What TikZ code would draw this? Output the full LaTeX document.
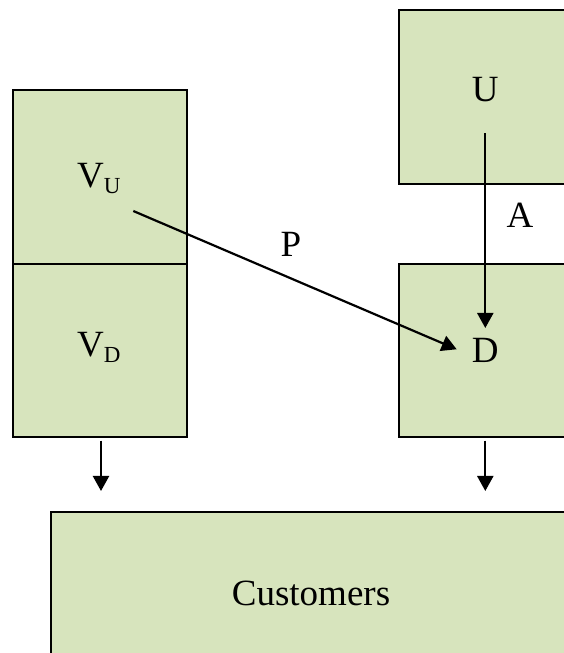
\documentclass[tikz,border=0pt]{standalone}
\usepackage{fontspec}
\setmainfont{Liberation Serif}
\usetikzlibrary{arrows.meta}
\definecolor{boxfill}{HTML}{D7E4BD}
\newcommand{\subtxt}[1]{\raisebox{-6pt}{\fontsize{23}{25}\selectfont #1}}
\begin{document}
\begin{tikzpicture}[x=1pt,y=1pt,
  box/.style={draw=black,line width=2pt,fill=boxfill},
  lbl/.style={inner sep=0pt,anchor=base,font=\fontsize{37}{40}\selectfont},
  arr/.style={line width=2.2pt,-{Triangle[width=16pt,length=15pt]}}]
\useasboundingbox (0,0) rectangle (564,653);
\clip (0,0) rectangle (564,653);
% boxes
\node[box,inner sep=0pt,minimum width=173.7pt,minimum height=173.7pt,anchor=north west] (vubox) at (12,564) {};
\node[box,inner sep=0pt,minimum width=173.7pt,minimum height=173.8pt,anchor=north west] (vdbox) at (12,390.3) {};
\node[box,inner sep=0pt,minimum width=210pt,minimum height=173.7pt,anchor=north west] (ubox) at (397.5,644) {};
\node[box,inner sep=0pt,minimum width=210pt,minimum height=173.8pt,anchor=north west] (dbox) at (397.5,390.3) {};
\node[box,inner sep=0pt,minimum width=560pt,minimum height=170pt,anchor=north west] (cbox) at (50,142) {};
% labels
\node[lbl] (vu) at (98.8,465.7) {V\subtxt{U}};
\node[lbl] (vd) at (98.8,296.3) {V\subtxt{D}};
\node[lbl] (u) at (485.3,551.3) {U};
\node[lbl] (d) at (485.3,290.7) {D};
\node[lbl] (a) at (520,425.3) {A};
\node[lbl] (p) at (291,396.3) {P};
\node[lbl] (cust) at (311,47) {Customers};
% connectors
\coordinate (astart) at (485.3,519.7);
\coordinate (aend) at (485.3,325);
\coordinate (pstart) at (133.3,442);
\coordinate (pend) at (456.7,303.7);
\coordinate (ls) at (101,212.3);
\coordinate (le) at (101,162);
\coordinate (rs) at (485.3,212.3);
\coordinate (re) at (485.3,162);
\draw[arr] (astart) -- (aend);
\draw[arr] (pstart) -- (pend);
\draw[arr] (ls) -- (le);
\draw[arr] (rs) -- (re);
\end{tikzpicture}
\end{document}
